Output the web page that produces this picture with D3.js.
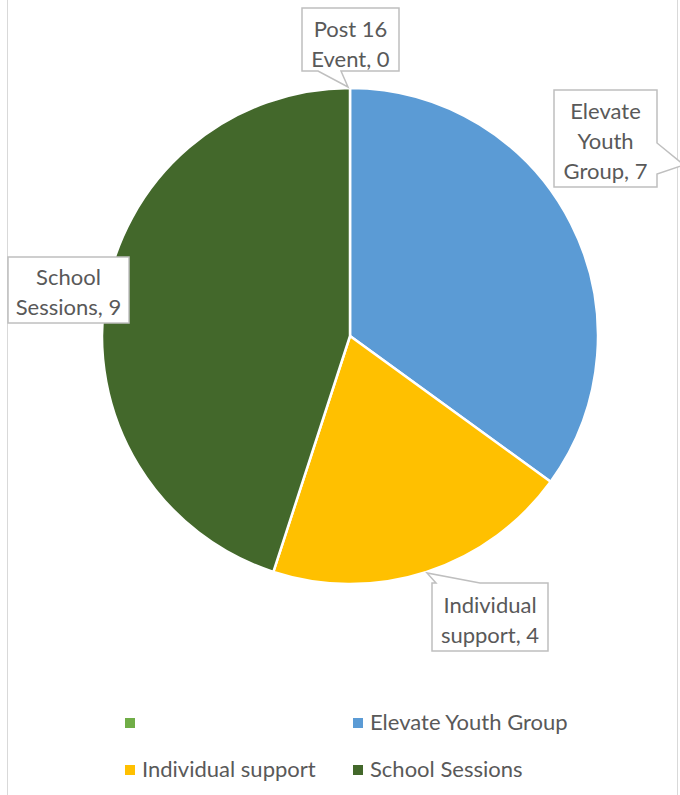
<!DOCTYPE html>
<html>
<head>
<meta charset="utf-8">
<script src="https://cdn.jsdelivr.net/npm/d3@7/dist/d3.min.js"></script>
<style>
  html, body { margin: 0; padding: 0; background: #fff; }
  svg { display: block; }
  text { font-family: Lato, "Open Sans", "Liberation Sans", sans-serif; fill: #595959; }
</style>
</head>
<body>
<svg id="chart" width="680" height="795"></svg>
<script>
// Session counts by activity type
const categories = ["Post 16 Event", "Elevate Youth Group", "Individual support", "School Sessions"];
const values = [0, 7, 4, 9];
const legendLabels = ["", "Elevate Youth Group", "Individual support", "School Sessions"];
const colors = ["#70AD47", "#5B9BD5", "#FFC000", "#43682B"];

const svg = d3.select("#chart");
const W = 680, H = 795;
const FS = 22;

// outer chart frame (only the side edges fall inside the view)
svg.append("line").attr("x1", 7.5).attr("x2", 7.5).attr("y1", 0).attr("y2", H)
  .attr("stroke", "#D9D9D9").attr("stroke-width", 1);
svg.append("line").attr("x1", 677.5).attr("x2", 677.5).attr("y1", 0).attr("y2", H)
  .attr("stroke", "#D9D9D9").attr("stroke-width", 1);

const cx = 350, cy = 336, r = 248;
const color = d3.scaleOrdinal().domain(categories).range(colors);

const pie = d3.pie().value(d => d.value).sort(null);
const arcs = pie(categories.map((c, i) => ({ name: c, value: values[i] })));
const arc = d3.arc().innerRadius(0).outerRadius(r);

const g = svg.append("g").attr("transform", `translate(${cx},${cy})`);
g.selectAll("path.slice").data(arcs).join("path")
  .attr("class", "slice")
  .attr("d", arc)
  .attr("fill", d => color(d.data.name))
  .attr("stroke", "#fff")
  .attr("stroke-width", 2.5)
  .attr("stroke-linejoin", "round");

// data-label callouts: box, pointer, first baseline
const callouts = [
  { i: 0, box: [302, 8, 97, 63], base: 37, ptr: [[318, 71], [341, 71], [348, 87]] },
  { i: 1, box: [554, 90, 103, 97], base: 119, ptr: [[657, 143], [657, 174], [684, 165]] },
  { i: 2, box: [432, 583, 116, 68], base: 613, ptr: [[436, 583], [480, 583], [427, 573]] },
  { i: 3, box: [8, 257, 121, 66], base: 285, ptr: null }
];

// label text: category name broken over lines, value appended to the last line
function labelLines(d) {
  const words = d.name.split(" ");
  let lines;
  if (words.length === 3 && d.name.startsWith("Post")) lines = ["Post 16", "Event"];
  else lines = words.length > 2 ? words : words;
  lines = lines.slice();
  lines[lines.length - 1] += `, ${d.value}`;
  return lines;
}

callouts.forEach(c => {
  const d = arcs[c.i].data;
  const [x, y, w, h] = c.box;
  const lines = labelLines(d);

  const grp = svg.append("g");
  if (c.ptr) {
    const p = c.ptr;
    let path;
    if (c.i === 0) {
      path = `M${x},${y} H${x + w} V${y + h} H${p[1][0]} L${p[2][0]},${p[2][1]} L${p[0][0]},${y + h} H${x} Z`;
    } else if (c.i === 1) {
      path = `M${x},${y} H${x + w} V${p[0][1]} L${p[2][0]},${p[2][1]} L${x + w},${p[1][1]} V${y + h} H${x} Z`;
    } else {
      path = `M${x},${y} H${p[0][0]} L${p[2][0]},${p[2][1]} L${p[1][0]},${y} H${x + w} V${y + h} H${x} Z`;
    }
    grp.append("path").attr("d", path)
      .attr("fill", "#fff").attr("stroke", "#BFBFBF").attr("stroke-width", 1.5)
      .attr("stroke-linejoin", "miter");
  } else {
    grp.append("rect").attr("x", x).attr("y", y).attr("width", w).attr("height", h)
      .attr("fill", "#fff").attr("stroke", "#BFBFBF").attr("stroke-width", 1.5);
  }
  lines.forEach((t, k) => {
    grp.append("text")
      .attr("x", x + w / 2)
      .attr("y", c.base + k * 30)
      .attr("text-anchor", "middle")
      .attr("font-size", FS)
      .text(t);
  });
});

// legend: two columns, two rows
const legendPos = [[125, 718], [353, 718], [125, 765], [353, 765]];
const lg = svg.append("g");
categories.forEach((c, i) => {
  const [lx, ly] = legendPos[i];
  lg.append("rect").attr("x", lx).attr("y", ly).attr("width", 10).attr("height", 10)
    .attr("fill", color(c));
  lg.append("text").attr("x", lx + 17).attr("y", ly + 12)
    .attr("font-size", FS).text(legendLabels[i]);
});
</script>
</body>
</html>
